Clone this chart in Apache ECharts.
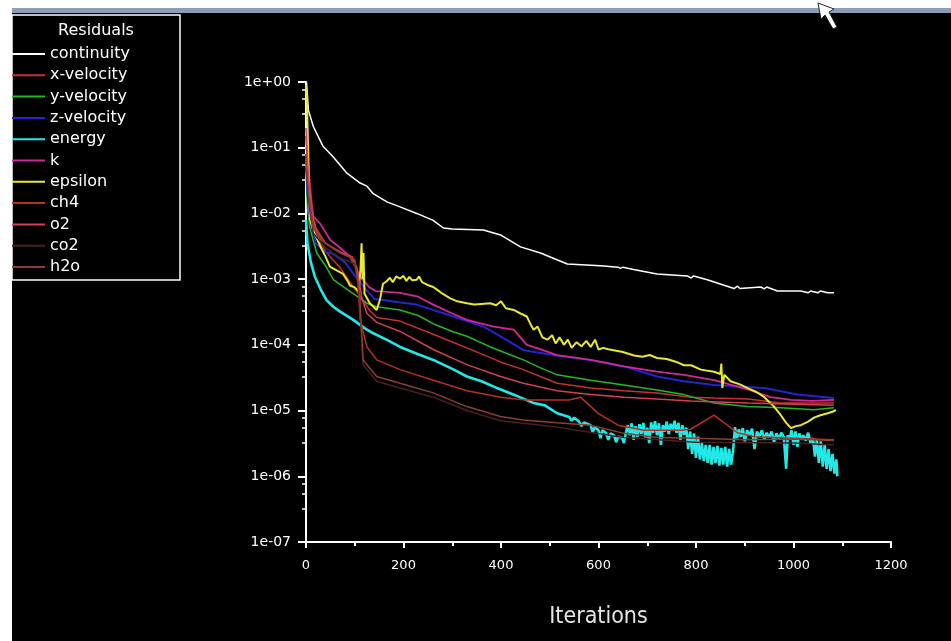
<!DOCTYPE html>
<html><head><meta charset="utf-8">
<script src="https://cdn.jsdelivr.net/npm/echarts@6/dist/echarts.min.js"></script>
<style>html,body{margin:0;padding:0;background:#fff}#c{width:951px;height:641px}</style>
</head><body><div id="c"></div>
<script>
const seriesNames = ['continuity','x-velocity','y-velocity','z-velocity','energy','k','epsilon','ch4','o2','co2','h2o'];
const xTicks = [0,200,400,600,800,1000,1200];

const continuityIter = [1,5,15,35,56,84,111,125,138,166,193,227,260,282,300,364,399,440,481,536,604,640,645,650,672,720,782,790,795,823,878,885,890,933,940,945,967,1015,1030,1035,1050,1055,1070,1083];
const continuityRes  = [1.0,0.37,0.21,0.105,0.072,0.041,0.029,0.026,0.020,0.015,0.0126,0.0100,0.0079,0.0060,0.0058,0.0056,0.0047,0.0031,0.0025,0.0017,0.0016,0.00152,0.00146,0.00152,0.0014,0.0012,0.00112,0.00104,0.00112,0.00098,0.00072,0.00078,0.00072,0.00076,0.00071,0.00076,0.00066,0.00066,0.00062,0.00066,0.00062,0.00066,0.00062,0.00062];

const xvelIter = [0,3,8,15,29,49,70,90,111,131,145,193,261,330,399,446,515,584,652,720,789,837,906,974,1083];
const xvelRes  = [0.1,0.08,0.03,8e-3,3.5e-3,2.2e-3,1.5e-3,9.0e-4,5.5e-4,3.3e-4,2.6e-4,2.3e-4,1.45e-4,9.0e-5,5.5e-5,4.2e-5,2.6e-5,2.2e-5,2.0e-5,1.85e-5,1.6e-5,1.55e-5,1.5e-5,1.3e-5,1.3e-5];

const yvelIter = [0,3,8,22,40,56,90,125,145,193,230,261,300,330,378,420,446,480,515,584,652,720,775,837,906,974,1042,1083];
const yvelRes  = [0.05,0.012,6.0e-3,2.5e-3,1.6e-3,9.8e-4,6.5e-4,4.3e-4,3.8e-4,3.4e-4,2.8e-4,2.1e-4,1.6e-4,1.35e-4,9.3e-5,7.0e-5,5.9e-5,4.5e-5,3.5e-5,2.9e-5,2.45e-5,2.05e-5,1.75e-5,1.3e-5,1.15e-5,1.1e-5,1.03e-5,1.1e-5];

const zvelIter = [0,3,8,20,40,56,80,110,140,158,193,227,296,364,399,446,515,584,652,720,775,837,940,1008,1083];
const zvelRes  = [0.08,0.02,8.0e-3,3.5e-3,2.6e-3,2.4e-3,1.8e-3,9.0e-4,5.0e-4,4.8e-4,4.4e-4,4.1e-4,2.8e-4,1.9e-4,1.35e-4,8.3e-5,6.9e-5,5.9e-5,4.7e-5,3.3e-5,2.8e-5,2.45e-5,2.2e-5,1.75e-5,1.55e-5];

const energyIter = [0,3,10,18,30,42,56,70,97,120,138,165,193,230,261,300,330,360,392,430,467,490,515,540,545,550,560,565,570,584,588,592,600,604,608,615,620,625,632,636,640,648,652,656,660,664,668,672,676,680,684,688,692,696,700,704,708,712,716,720,724,728,732,736,740,744,748,752,756,760,764,768,772,776,780,784,788,792,796,800,804,808,812,816,820,824,828,832,836,840,844,848,852,856,860,864,868,872,876,880,884,888,892,896,900,905,910,915,920,925,930,935,940,945,950,955,960,965,970,975,980,985,988,992,996,1000,1004,1008,1012,1016,1020,1025,1030,1035,1040,1044,1048,1052,1056,1060,1064,1068,1072,1076,1080,1084,1088,1090];
const energyRes  = [8.0e-3,3.5e-3,1.8e-3,1.1e-3,7.0e-4,4.8e-4,3.8e-4,3.2e-4,2.4e-4,1.8e-4,1.5e-4,1.2e-4,9.3e-5,7.2e-5,5.9e-5,4.3e-5,3.3e-5,2.8e-5,2.2e-5,1.7e-5,1.3e-5,1.2e-5,9.1e-6,8.0e-6,7.0e-6,7.8e-6,6.8e-6,5.8e-6,6.6e-6,6.0e-6,4.6e-6,5.6e-6,5.0e-6,3.8e-6,5.0e-6,4.6e-6,3.6e-6,4.5e-6,4.2e-6,3.3e-6,4.0e-6,3.9e-6,3.2e-6,4.5e-6,6.0e-6,4.2e-6,6.4e-6,3.6e-6,5.8e-6,4.0e-6,6.2e-6,4.4e-6,6.5e-6,3.9e-6,5.5e-6,3.2e-6,6.6e-6,4.6e-6,6.9e-6,4.2e-6,6.4e-6,3.0e-6,6.0e-6,4.8e-6,6.8e-6,4.4e-6,6.3e-6,5.0e-6,7.0e-6,4.6e-6,6.5e-6,3.6e-6,6.0e-6,4.3e-6,5.5e-6,2.6e-6,4.8e-6,2.2e-6,4.5e-6,1.9e-6,4.0e-6,1.8e-6,3.2e-6,1.7e-6,3.0e-6,1.6e-6,3.0e-6,1.5e-6,2.8e-6,1.6e-6,2.9e-6,1.45e-6,2.7e-6,1.5e-6,2.8e-6,1.4e-6,2.6e-6,1.5e-6,2.4e-6,5.6e-6,3.8e-6,5.2e-6,4.0e-6,5.4e-6,3.4e-6,5.0e-6,4.2e-6,5.3e-6,2.6e-6,4.8e-6,4.0e-6,5.0e-6,3.6e-6,4.6e-6,3.9e-6,4.8e-6,3.3e-6,4.5e-6,3.7e-6,4.6e-6,4.0e-6,1.3e-6,4.2e-6,3.6e-6,5.0e-6,3.0e-6,4.8e-6,2.8e-6,4.5e-6,3.6e-6,4.2e-6,3.5e-6,4.6e-6,3.2e-6,3.8e-6,2.0e-6,3.6e-6,1.6e-6,3.4e-6,1.4e-6,3.0e-6,1.3e-6,2.6e-6,1.2e-6,2.2e-6,1.1e-6,1.8e-6,1.0e-6];

const kIter = [0,3,8,15,29,49,70,90,111,130,145,152,193,230,261,300,330,385,426,453,480,515,584,652,720,775,837,906,953,995,1040,1083];
const kRes  = [0.15,0.06,0.02,9.0e-3,7.0e-3,4.0e-3,3.0e-3,2.2e-3,1.1e-3,7.5e-4,6.5e-4,6.5e-4,6.2e-4,5.4e-4,4.1e-4,3.0e-4,2.4e-4,1.9e-4,1.7e-4,1.0e-4,8.6e-5,7.0e-5,5.9e-5,4.7e-5,3.9e-5,3.5e-5,2.9e-5,2.1e-5,1.6e-5,1.45e-5,1.4e-5,1.45e-5];

const epsilonIter = [0,2,4,6,8,15,29,40,49,60,76,85,90,100,108,112,114,116,118,120,131,145,152,158,165,172,178,185,193,200,206,212,218,227,232,238,245,252,261,270,280,296,310,330,345,360,378,390,400,410,426,440,453,460,467,475,485,495,505,512,520,529,537,545,555,565,575,584,593,600,610,620,631,650,673,690,705,720,740,760,775,790,810,837,850,852,854,858,871,890,906,925,940,960,974,985,995,1005,1015,1030,1042,1055,1070,1080,1087];
const epsilonRes  = [0.9,0.5,0.12,0.03,8.0e-3,5.5e-3,3.2e-3,2.2e-3,1.55e-3,1.4e-3,1.2e-3,9.5e-4,8.0e-4,7.5e-4,6.5e-4,1.5e-3,3.5e-3,1.0e-3,2.5e-3,6.0e-4,4.3e-4,3.4e-4,5.0e-4,8.5e-4,9.2e-4,1.05e-3,9.0e-4,1.1e-3,1.02e-3,1.12e-3,9.4e-4,1.08e-3,9.6e-4,9.8e-4,1.1e-3,9.0e-4,8.5e-4,8.0e-4,7.6e-4,6.8e-4,6.0e-4,5.1e-4,4.6e-4,4.3e-4,4.1e-4,4.2e-4,4.3e-4,4.0e-4,4.6e-4,3.6e-4,3.4e-4,3.0e-4,2.7e-4,2.1e-4,1.7e-4,1.9e-4,1.3e-4,1.2e-4,1.4e-4,1.05e-4,1.3e-4,1.0e-4,1.2e-4,9.0e-5,1.1e-4,9.5e-5,1.15e-4,9.3e-5,1.2e-4,8.5e-5,9.0e-5,8.6e-5,8.3e-5,7.8e-5,6.9e-5,6.6e-5,7.0e-5,6.3e-5,6.1e-5,5.5e-5,4.9e-5,4.9e-5,4.2e-5,3.9e-5,3.6e-5,5.2e-5,2.2e-5,3.5e-5,2.8e-5,2.5e-5,2.2e-5,1.9e-5,1.6e-5,1.15e-5,8.5e-6,6.5e-6,5.4e-6,5.8e-6,6.0e-6,6.8e-6,7.8e-6,8.5e-6,9.1e-6,9.6e-6,1.02e-5];

const ch4Iter = [0,5,10,30,60,90,105,111,125,145,193,261,330,399,450,540,563,600,640,693,770,789,837,885,920,1000,1083];
const ch4Res  = [0.08,0.02,8e-3,4e-3,2.8e-3,2.2e-3,1.5e-3,2.4e-4,9.3e-5,5.9e-5,4.2e-5,2.9e-5,2.0e-5,1.6e-5,1.45e-5,1.45e-5,1.6e-5,9.0e-6,6.0e-6,5.0e-6,5.0e-6,5.2e-6,8.5e-6,4.6e-6,4.0e-6,3.8e-6,3.6e-6];

const o2Iter = [0,4,10,20,40,70,95,105,115,125,145,193,261,330,399,446,515,584,652,720,789,906,1083];
const o2Res  = [0.2,0.05,0.012,6.0e-3,3.5e-3,2.6e-3,2.2e-3,1.4e-3,5.0e-4,3.0e-4,2.2e-4,1.6e-4,8.5e-5,5.0e-5,3.3e-5,2.6e-5,2.0e-5,1.75e-5,1.6e-5,1.5e-5,1.4e-5,1.3e-5,1.2e-5];

const co2Iter = [0,5,15,40,70,100,110,117,145,193,261,330,399,515,652,800,1000,1083];
const co2Res  = [0.05,0.017,5e-3,3.0e-3,2.1e-3,1.7e-3,5e-4,5.0e-5,2.8e-5,2.2e-5,1.6e-5,1.0e-5,7.0e-6,5.6e-6,3.9e-6,3.3e-6,3.2e-6,3.0e-6];

const h2oIter = [0,5,15,40,70,100,110,117,145,193,261,330,399,446,515,584,652,720,800,900,1000,1083];
const h2oRes  = [0.06,0.02,6e-3,3.5e-3,2.5e-3,2.0e-3,6e-4,5.9e-5,3.3e-5,2.6e-5,1.86e-5,1.15e-5,8.1e-6,7.2e-6,6.5e-6,6.0e-6,4.5e-6,3.9e-6,3.8e-6,3.6e-6,3.7e-6,3.5e-6];

const colors = ['#ffffff','#c83030','#22b822','#2424d0','#22e8e8','#d02898','#e8e830','#b8301e','#d04058','#4a2020','#8a4030'];
const widths = [1.5,1.5,1.5,2,2.6,1.8,2,1.5,1.5,1.5,1.5];
const iterArrays = [continuityIter,xvelIter,yvelIter,zvelIter,energyIter,kIter,epsilonIter,ch4Iter,o2Iter,co2Iter,h2oIter];
const resArrays  = [continuityRes,xvelRes,yvelRes,zvelRes,energyRes,kRes,epsilonRes,ch4Res,o2Res,co2Res,h2oRes];

const chart = echarts.init(document.getElementById('c'), null, {renderer:'canvas'});
const fmtExp = v => { const e = Math.round(Math.log10(v)); return '1e' + (e < 0 ? '-' : '+') + String(Math.abs(e)).padStart(2,'0'); };

chart.setOption({
  backgroundColor: '#ffffff',
  animation: false,
  graphic: [
    {type:'rect', shape:{x:12,y:8,width:939,height:5}, style:{fill:'#8e9cb8'}, z:-10},
    {type:'rect', shape:{x:12,y:13,width:939,height:628}, style:{fill:'#000000'}, z:-10},
    {type:'rect', shape:{x:12,y:15,width:168,height:265}, style:{fill:'#000000', stroke:'#ffffff', lineWidth:1.5}, z:-5},
    {type:'text', x:96, y:31, style:{text:'Residuals', fill:'#ffffff', font:'16px "DejaVu Sans"', align:'center', verticalAlign:'middle'}, z:10},
    {type:'polygon', shape:{points:[[818,3],[834,9],[829,12],[837,27],[833,29],[825,15],[821,19]]}, style:{fill:'#ffffff', stroke:'#222', lineWidth:1}, z:20}
  ],
  legend: {
    orient:'vertical', left:12, top:46, padding:0,
    icon:'rect', itemWidth:33, itemHeight:2, itemGap:5.3, itemTextGap:2,
    textStyle:{color:'#ffffff', fontSize:16, lineHeight:16, fontFamily:'DejaVu Sans'},
    data: seriesNames,
    selectedMode:false
  },
  grid: {left:306, right:60, top:82, bottom:99, containLabel:false},
  xAxis: {
    type:'value', min:0, max:1200, interval:200,
    axisLine:{lineStyle:{color:'#ffffff', width:2}},
    axisTick:{show:true, length:6, lineStyle:{color:'#ffffff', width:2}},
    minorTick:{show:true, splitNumber:2, length:4, lineStyle:{color:'#ffffff', width:2}},
    splitLine:{show:false},
    axisLabel:{color:'#ffffff', fontSize:13, fontFamily:'DejaVu Sans', margin:17, formatter: v => String(v)},
    name:'Iterations', nameLocation:'middle', nameGap:64,
    nameTextStyle:{color:'#e6e6e6', fontSize:23, fontFamily:'DejaVu Sans Condensed'}
  },
  yAxis: {
    type:'log', logBase:10, min:1e-7, max:1, splitNumber:7,
    axisLine:{lineStyle:{color:'#ffffff', width:2}},
    axisTick:{show:true, length:8, lineStyle:{color:'#ffffff', width:2}},
    minorTick:{show:true, splitNumber:4, length:4, lineStyle:{color:'#ffffff', width:1.5}},
    splitLine:{show:false},
    axisLabel:{color:'#ffffff', fontSize:14, fontFamily:'DejaVu Sans', margin:15, formatter:fmtExp}
  },
  series: seriesNames.map((n,i) => ({
    name:n, type:'line', showSymbol:false, symbol:'none',
    data: iterArrays[i].map((x,j) => [x, resArrays[i][j]]),
    lineStyle:{color:colors[i], width:widths[i]},
    itemStyle:{color:colors[i]},
    z: 2 + i
  }))
});
</script></body></html>
